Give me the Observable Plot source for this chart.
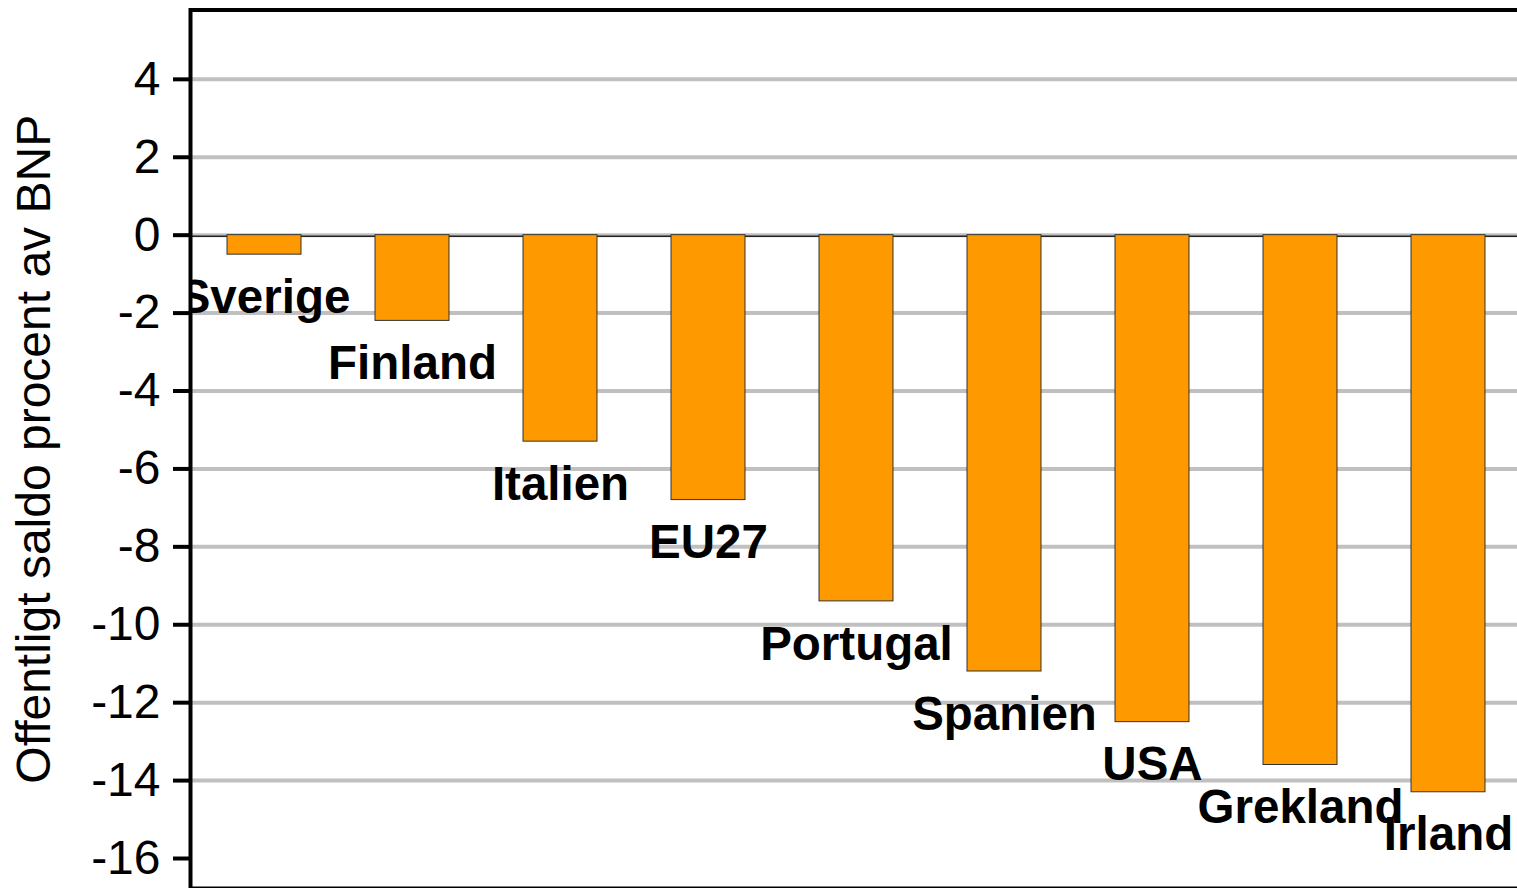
<!DOCTYPE html>
<html><head><meta charset="utf-8">
<script src="https://cdn.jsdelivr.net/npm/d3@7"></script>
<script src="https://cdn.jsdelivr.net/npm/@observablehq/plot@0.6"></script>
<style>
html,body{margin:0;padding:0;background:#fff;overflow:hidden;}
</style></head><body><div id="chart"></div>
<script>
const countries = ["Sverige","Finland","Italien","EU27","Portugal","Spanien","USA","Grekland","Irland"];
const saldo = [-0.5,-2.2,-5.3,-6.8,-9.4,-11.2,-12.5,-13.6,-14.3];
const yTicks = [4,2,0,-2,-4,-6,-8,-10,-12,-14,-16];
const gridValues = [4,2,0,-2,-4,-6,-8,-10,-12,-14];
const yTitle = "Offentligt saldo procent av BNP";

const data = countries.map((c,i)=>({country:c, value:saldo[i]}));
const font = "'Liberation Sans', Arial, Helvetica, sans-serif";

const chart = Plot.plot({
  width:1517, height:888,
  marginLeft:190, marginRight:-5, marginTop:9.5, marginBottom:0,
  style:{fontFamily:font, background:"#fff"},
  x:{domain:countries, paddingInner:0.5, paddingOuter:0.25, axis:null},
  y:{domain:[-16.77,5.78], label:null},
  marks:[
    Plot.ruleY(gridValues,{stroke:"#c0c0c0", strokeWidth:4}),
    Plot.ruleY([0],{stroke:"#222", strokeWidth:1.5, dy:1}),
    Plot.barY(data,{x:"country", y:"value", fill:"#ff9900", stroke:"#333", strokeWidth:1}),
    Plot.text(data,{x:"country", y:"value", text:"country", dy:43, fontSize:47.5, fontWeight:"bold", fill:"#000", clip:"frame"}),
    Plot.axisY(yTicks,{tickSize:17, tickPadding:13, strokeWidth:4, fontSize:48, color:"#000", label:null, tickFormat:d=>String(d)}),
    Plot.frame({stroke:"#000", strokeWidth:4}),
    Plot.text([yTitle], {text:d=>d, frameAnchor:"left", textAnchor:"middle", rotate:-90, dx:-156, fontSize:48, fill:"#000"})
  ]
});
document.getElementById("chart").appendChild(chart);
</script></body></html>
